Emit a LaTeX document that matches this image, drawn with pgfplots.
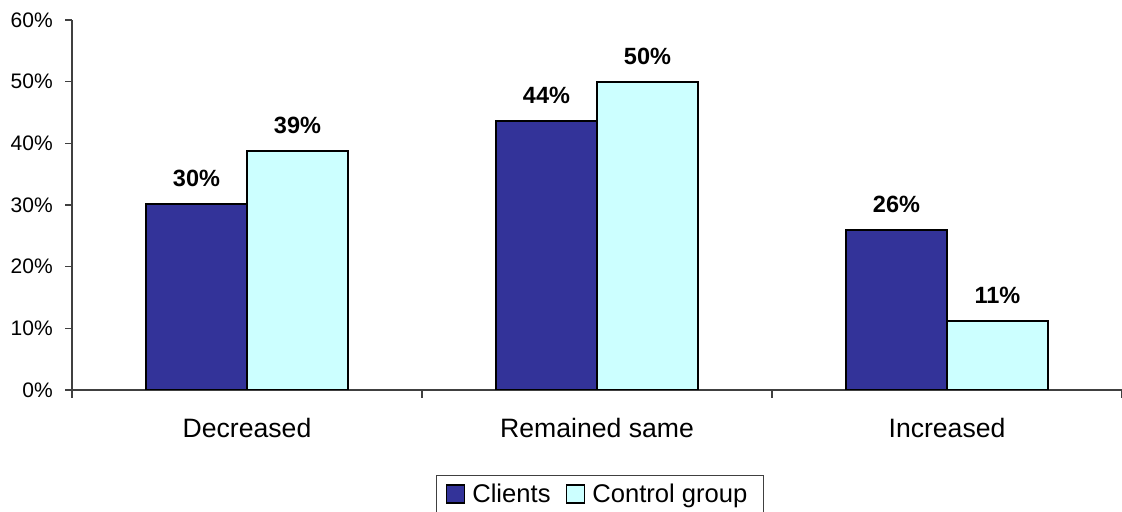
\documentclass[border=0pt]{standalone}
\usepackage{fontspec}
\setmainfont{Liberation Sans}
\usepackage{pgfplots}
\pgfplotsset{compat=1.18}
\definecolor{clients}{HTML}{333399}
\definecolor{control}{HTML}{CCFFFF}
\begin{document}
\begin{tikzpicture}
\useasboundingbox (-36pt,-61pt) rectangle (525pt,195pt);
\begin{axis}[
  at={(0,0)}, anchor=south west,
  width=525pt, height=185pt, scale only axis,
  xmin=-0.5, xmax=2.5, ymin=0, ymax=60,
  axis x line=bottom, axis y line=left,
  axis line style={-, black!75, line width=0.6pt},
  tick align=outside,
  xtick={0,1,2}, xticklabels={Decreased, Remained same, Increased},
  major x tick style={draw=none},
  minor xtick={-0.5,0.5,1.5,2.5},
  minor tick length=4pt,
  minor x tick style={black!75, line width=0.6pt},
  major tick length=3.5pt,
  ytick={0,10,...,60},
  y tick style={black!75, line width=0.6pt},
  yticklabel={\pgfmathprintnumber{\tick}\%},
  /pgf/number format/assume math mode=true,
  yticklabel style={font=\fontsize{10.5}{12}\selectfont, xshift=-2.6pt},
  xticklabel style={font=\fontsize{13.3}{16}\selectfont, yshift=-7pt},
  ybar=0pt, bar width=50.5pt,
  nodes near coords={\pgfmathprintnumber[fixed,precision=0]{\pgfplotspointmeta}\%},
  nodes near coords style={font=\bfseries\fontsize{11.75}{14}\selectfont, anchor=south, yshift=5pt, black},
  legend columns=2,
  legend style={at={(0.5,0)}, anchor=north, yshift=-42.5pt, xshift=1.5pt,
    draw=black!75, line width=0.5pt,
    font=\fontsize{12.8}{15}\selectfont,
    inner xsep=4.5pt, inner ysep=2pt,
    nodes={inner xsep=3.5pt},
    /tikz/every even column/.append style={column sep=4pt}},
  legend image code/.code={\draw[#1, draw=black, line width=0.9pt] (0pt,-4.5pt) rectangle (9pt,4.5pt);},
]
\addplot[fill=clients, draw=black, line width=1pt] coordinates {(0,30.1) (1,43.6) (2,25.9)};
\addplot[fill=control, draw=black, line width=1pt] coordinates {(0,38.7) (1,49.9) (2,11.2)};
\legend{Clients, Control group}
\end{axis}
\end{tikzpicture}
\end{document}
